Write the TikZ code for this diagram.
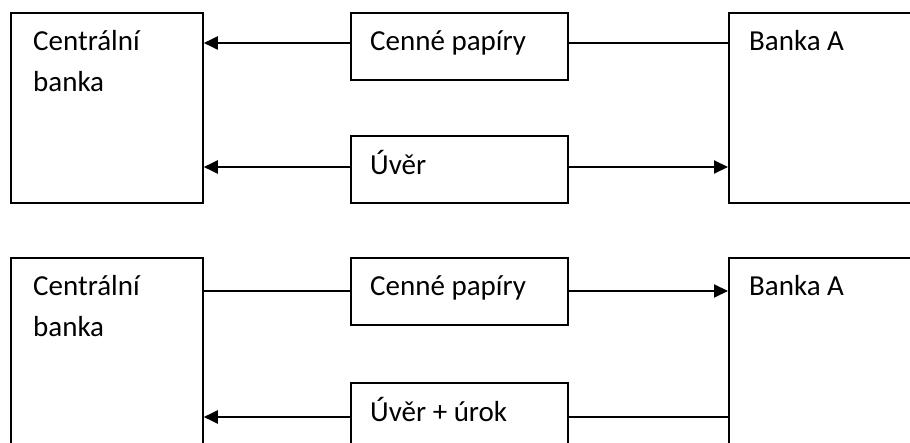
\documentclass[tikz,border=0pt]{standalone}
\usepackage{fontspec}
\setmainfont{Carlito}
\usetikzlibrary{arrows.meta}
\begin{document}
\begin{tikzpicture}[x=1pt,y=-1pt,
  box/.style={draw,line width=1.8pt,inner sep=0pt,anchor=north west},
  lbl/.style={inner sep=0pt,anchor=base west,font=\fontsize{29}{41}\selectfont,align=left},
  link/.style={line width=1.5pt},
  flow/.style={line width=2pt,-{Triangle[length=14pt,width=13pt]}}]
\useasboundingbox (0,0) rectangle (910,443);
\clip (0,0) rectangle (910,443);

% levels of the horizontal connectors
\coordinate (r1) at (0,43);
\coordinate (r2) at (0,167);
\coordinate (r3) at (0,291);
\coordinate (r4) at (0,417);

% ---- upper scheme ----
\node[box,minimum width=192pt,minimum height=190pt] (cb1) at (10,12) {};
\node[box,minimum width=217pt,minimum height=67pt] (cp1) at (350,12) {};
\node[box,minimum width=217pt,minimum height=67pt] (u1) at (350,135) {};
\node[box,minimum width=220pt,minimum height=190pt] (ba1) at (728,12) {};

% the base anchor of a two-line label sits on its last line
\node[lbl] (cb1t) at (33,92) {Centrální\\banka};
\node[lbl] (cp1t) at (370,51) {Cenné papíry};
\node[lbl] (u1t) at (370,175) {Úvěr};
\node[lbl] (ba1t) at (749,51) {Banka A};

\draw[flow] (cp1.west |- r1) -- (cb1.east |- r1);
\draw[link] (cp1.east |- r1) -- (ba1.west |- r1);
\draw[flow] (u1.west |- r2) -- (cb1.east |- r2);
\draw[flow] (u1.east |- r2) -- (ba1.west |- r2);

% ---- lower scheme ----
\node[box,minimum width=192pt,minimum height=220pt] (cb2) at (10,257) {};
\node[box,minimum width=217pt,minimum height=67pt] (cp2) at (350,257) {};
\node[box,minimum width=217pt,minimum height=100pt] (u2) at (350,382) {};
\node[box,minimum width=220pt,minimum height=220pt] (ba2) at (728,257) {};

\node[lbl] (cb2t) at (33,337) {Centrální\\banka};
\node[lbl] (cp2t) at (370,296) {Cenné papíry};
\node[lbl] (u2t) at (370,421) {Úvěr + úrok};
\node[lbl] (ba2t) at (749,296) {Banka A};

\draw[link] (cb2.east |- r3) -- (cp2.west |- r3);
\draw[flow] (cp2.east |- r3) -- (ba2.west |- r3);
\draw[flow] (u2.west |- r4) -- (cb2.east |- r4);
\draw[link] (u2.east |- r4) -- (ba2.west |- r4);
\end{tikzpicture}
\end{document}
